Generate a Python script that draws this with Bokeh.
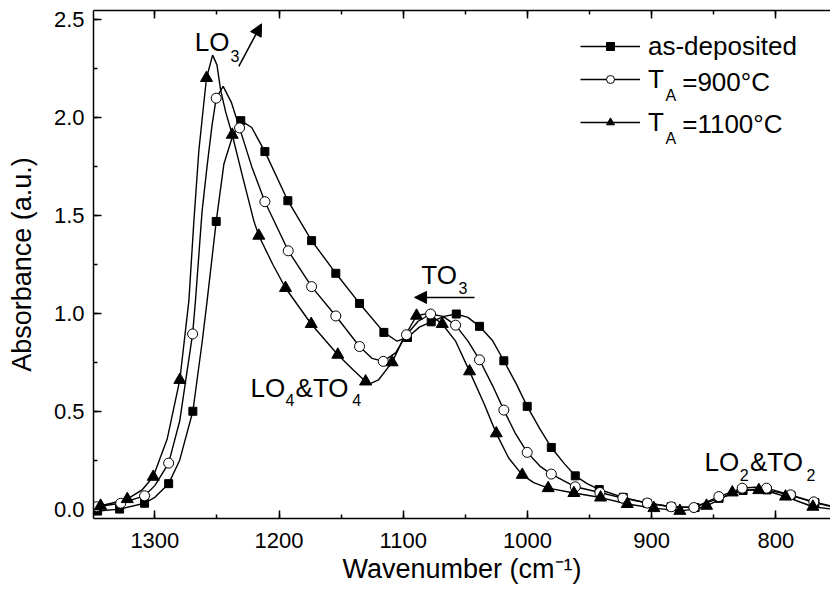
from bokeh.plotting import figure
from bokeh.models import (Range1d, LinearAxis, SingleIntervalTicker, Label, Arrow,
                          NormalHead, Legend, LegendItem, NumeralTickFormatter,
                          CustomLabelingPolicy)
from bokeh.embed import file_html
from bokeh.resources import INLINE

FONT = "Liberation Sans"

# ---------------- data ----------------
# as-deposited : curve
asdep_line_x = [1350, 1346.1, 1328.4, 1308.3, 1300, 1288.9, 1280, 1269.4, 1262, 1257.9, 1250.6, 1244.4,
                1237.7, 1230.8, 1222, 1211.4, 1192.9, 1173.8, 1154.3, 1135.2, 1115.6, 1105, 1096.6, 1087,
                1077.5, 1067, 1057.3, 1048, 1038.6, 1028, 1019, 1009, 1000.2, 990, 980.8, 970, 961.5, 952,
                942, 923, 903, 884, 866, 846, 827, 815, 807, 788, 769, 755]
asdep_line_y = [-0.012, -0.01, 0.0, 0.03, 0.06, 0.13, 0.25, 0.50, 0.85, 1.065, 1.47, 1.764,
                1.90, 1.985, 1.95, 1.827, 1.576, 1.372, 1.205, 1.051, 0.903, 0.858, 0.877, 0.93,
                0.957, 0.985, 0.997, 0.98, 0.934, 0.86, 0.758, 0.64, 0.525, 0.41, 0.315, 0.23, 0.17, 0.13,
                0.10, 0.06, 0.03, 0.012, 0.008, 0.055, 0.095, 0.10, 0.098, 0.07, 0.033, 0.012]
# as-deposited : markers
asdep_pts_x = [1346.1, 1328.4, 1308.3, 1288.9, 1269.4, 1250.6, 1230.8, 1211.4, 1192.9, 1173.8, 1154.3,
               1135.2, 1115.6, 1096.6, 1077.5, 1057.3, 1038.6, 1019.0, 1000.2, 980.8, 961.5, 942.2,
               922.9, 903.6, 884.3, 865.0, 845.7, 826.4, 807.1, 787.8, 768.5]
asdep_pts_y = [-0.01, 0.0, 0.03, 0.13, 0.50, 1.47, 1.985, 1.827, 1.576, 1.372, 1.205,
               1.051, 0.903, 0.877, 0.957, 0.997, 0.934, 0.758, 0.525, 0.315, 0.17, 0.10,
               0.06, 0.03, 0.012, 0.008, 0.055, 0.095, 0.098, 0.07, 0.033]

# T_A = 900 C : curve
t900_line_x = [1350, 1347, 1327.5, 1308.3, 1300, 1288.9, 1280, 1269.6, 1267.3, 1262, 1258, 1254,
               1250.6, 1245, 1238.5, 1231.8, 1222, 1211.4, 1192.6, 1173.8, 1154.3, 1135.2, 1125, 1116.1,
               1106, 1097.4, 1088, 1078, 1068, 1057.9, 1048, 1038.6, 1028, 1019, 1010, 1000.2, 990,
               980.8, 961.5, 941.7, 923.2, 903.5, 884.2, 866, 845.9, 827.1, 817, 807.5, 788.2, 769.4, 755]
t900_line_y = [0.005, 0.012, 0.03, 0.068, 0.12, 0.235, 0.45, 0.895, 1.065, 1.52, 1.75, 1.96,
               2.10, 2.16, 2.08, 1.948, 1.75, 1.571, 1.32, 1.137, 0.987, 0.831, 0.77, 0.755,
               0.80, 0.891, 0.96, 0.997, 0.985, 0.94, 0.86, 0.763, 0.63, 0.506, 0.39, 0.29, 0.22,
               0.179, 0.114, 0.085, 0.056, 0.031, 0.012, 0.008, 0.064, 0.107, 0.112, 0.107, 0.073, 0.037, 0.015]
# T_A = 900 C : markers
t900_pts_x = [1347.0, 1327.5, 1308.3, 1288.9, 1269.6, 1250.6, 1231.8, 1211.4, 1192.6, 1173.8, 1154.3,
              1135.2, 1116.1, 1097.4, 1078.0, 1057.9, 1038.6, 1019.0, 1000.2, 980.8, 961.5, 941.7,
              923.2, 903.5, 884.2, 866.0, 845.9, 827.1, 807.5, 788.2, 769.4]
t900_pts_y = [0.012, 0.03, 0.068, 0.235, 0.895, 2.10, 1.948, 1.571, 1.32, 1.137, 0.987,
              0.831, 0.755, 0.891, 0.997, 0.94, 0.763, 0.506, 0.29, 0.179, 0.114, 0.085,
              0.056, 0.031, 0.012, 0.008, 0.064, 0.107, 0.107, 0.073, 0.037]

# T_A = 1100 C : curve
t1100_line_x = [1350, 1343.7, 1335, 1322.2, 1310, 1301.3, 1290, 1279.9, 1272.6, 1268.6, 1264.6, 1261,
                1258.4, 1253.5, 1250, 1247, 1243, 1237.7, 1229, 1220.3, 1216.3, 1205, 1194.8, 1174.1,
                1152.7, 1140, 1130.3, 1127, 1120, 1109, 1100, 1089.3, 1080, 1068.6, 1058, 1046.6, 1035,
                1025.1, 1015, 1004.2, 995, 983.3, 962.6, 941.1, 919.6, 898.2, 877.3, 865, 855.8, 845,
                835.1, 825, 813.7, 803, 792.2, 780, 770.2, 755]
t1100_line_y = [0.005, 0.017, 0.03, 0.051, 0.10, 0.165, 0.36, 0.66, 1.065, 1.47, 1.83, 2.05,
                2.203, 2.32, 2.27, 2.14, 2.03, 1.913, 1.69, 1.473, 1.397, 1.25, 1.13, 0.946,
                0.789, 0.71, 0.652, 0.640, 0.66, 0.75, 0.87, 0.988, 1.0, 0.946, 0.86, 0.704, 0.54,
                0.387, 0.26, 0.175, 0.135, 0.107, 0.082, 0.059, 0.026, 0.005, -0.009, 0.0, 0.017, 0.05,
                0.085, 0.097, 0.097, 0.085, 0.064, 0.035, 0.012, 0.0]
# T_A = 1100 C : markers
t1100_pts_x = [1343.7, 1322.2, 1301.3, 1279.9, 1258.4, 1237.7, 1216.3, 1194.8, 1174.1, 1152.7, 1130.3,
               1109.0, 1089.3, 1068.6, 1046.6, 1025.1, 1004.2, 983.3, 962.6, 941.1, 919.6, 898.2,
               877.3, 855.8, 835.1, 813.7, 792.2, 770.2]
t1100_pts_y = [0.017, 0.051, 0.165, 0.66, 2.203, 1.913, 1.397, 1.13, 0.946, 0.789, 0.652,
               0.75, 0.988, 0.946, 0.704, 0.387, 0.175, 0.107, 0.082, 0.059, 0.026, 0.005,
               -0.009, 0.017, 0.085, 0.097, 0.064, 0.012]

series_names = ["as-deposited", "T", "T"]

# ---------------- figure ----------------
p = figure(width=830, height=595, output_backend="svg", toolbar_location=None,
           x_range=Range1d(1349.4, 756.0), y_range=Range1d(-0.048, 2.548),
           min_border_left=93, min_border_right=0, min_border_top=10, min_border_bottom=77)
p.outline_line_color = None
p.xgrid.grid_line_color = None
p.ygrid.grid_line_color = None
p.background_fill_color = "white"
p.border_fill_color = "white"

xt = SingleIntervalTicker(interval=100, num_minor_ticks=2)
yt = SingleIntervalTicker(interval=0.5, num_minor_ticks=2)
p.xaxis.ticker = xt
p.yaxis.ticker = yt
p.yaxis.formatter = NumeralTickFormatter(format="0.0")

for ax in (p.xaxis[0], p.yaxis[0]):
    ax.major_tick_in = 8
    ax.major_tick_out = 0
    ax.minor_tick_in = 4
    ax.minor_tick_out = 0
    ax.axis_line_width = 1.5
    ax.major_tick_line_width = 1.5
    ax.minor_tick_line_width = 1.5
    ax.axis_line_color = "black"
    ax.major_tick_line_color = "black"
    ax.minor_tick_line_color = "black"
    ax.major_label_text_font = FONT
    ax.major_label_text_font_size = "22px"
    ax.major_label_text_color = "black"
    ax.axis_label_text_font = FONT
    ax.axis_label_text_font_size = "27px"
    ax.axis_label_text_font_style = "normal"
    ax.axis_label_text_color = "black"

p.xaxis.axis_label = "Wavenumber (cm\u207b\u00b9)"
p.yaxis.axis_label = "Absorbance (a.u.)"
p.xaxis.major_label_standoff = 14
p.yaxis.major_label_standoff = 9
p.xaxis.axis_label_standoff = 3
p.yaxis.axis_label_standoff = 14

# top border with inward ticks, no labels
top = LinearAxis(ticker=xt, major_label_text_font_size="1px", major_label_standoff=0,
                 major_label_policy=CustomLabelingPolicy(
                     code="for (const i of indices) { indices.unset(i) } return indices"),
                 major_tick_in=8, major_tick_out=0, minor_tick_in=4, minor_tick_out=0,
                 axis_line_width=1.5, major_tick_line_width=1.5, minor_tick_line_width=1.5)
p.add_layout(top, "above")

# ---------------- curves and markers ----------------
LW = 1.4
l1 = p.line(asdep_line_x, asdep_line_y, line_color="black", line_width=LW)
l2 = p.line(t900_line_x, t900_line_y, line_color="black", line_width=LW)
l3 = p.line(t1100_line_x, t1100_line_y, line_color="black", line_width=LW)
s1 = p.scatter(asdep_pts_x, asdep_pts_y, marker="square", size=8,
               fill_color="black", line_color="black")
s2 = p.scatter(t900_pts_x, t900_pts_y, marker="circle", size=10,
               fill_color="white", line_color="black", line_width=1)
s3 = p.scatter(t1100_pts_x, t1100_pts_y, marker="triangle", size=12,
               fill_color="black", line_color="black")

# ---------------- legend (one row each) ----------------
rows = [(series_names[0], [l1, s1], 456.5),
        (series_names[1], [l2, s2], 423.2),
        (series_names[2], [l3, s3], 380.5)]
for lab, rends, vy in rows:
    lg = Legend(items=[LegendItem(label=lab, renderers=rends)], location=(487, vy),
                padding=0, margin=0, spacing=0, border_line_color=None,
                background_fill_alpha=0, glyph_width=60, glyph_height=20, label_height=20,
                label_standoff=8, label_text_font=FONT, label_text_font_size="26px",
                label_text_color="black")
    p.add_layout(lg)

def txt(x, y, s, size="26px"):
    p.add_layout(Label(x=x, y=y, text=s, text_font=FONT, text_font_size=size,
                       text_color="black", text_align="left", text_baseline="alphabetic"))

# legend subscripts and rest of the labels
txt(888.8, 2.115, "A", "16px")
txt(875.4, 2.185, "=900°C")
txt(888.8, 1.895, "A", "16px")
txt(875.4, 1.970, "=1100°C")

# ---------------- annotations ----------------
txt(1267.8, 2.389, "LO")
txt(1239.0, 2.316, "3", "16px")
p.add_layout(Arrow(end=NormalHead(size=12, fill_color="black", line_color="black"),
                   x_start=1232.4, y_start=2.262, x_end=1214.1, y_end=2.480,
                   line_width=1.5, line_color="black"))

txt(1085.5, 1.198, "TO")
txt(1055.5, 1.129, "3", "16px")
p.add_layout(Arrow(end=NormalHead(size=12, fill_color="black", line_color="black"),
                   x_start=1042.6, y_start=1.082, x_end=1090.9, y_end=1.082,
                   line_width=1.5, line_color="black"))

txt(1222.9, 0.620, "LO")
txt(1194.8, 0.556, "4", "16px")
txt(1186.7, 0.620, "&TO")
txt(1141.1, 0.556, "4", "16px")

txt(857.4, 0.242, "LO")
txt(829.0, 0.173, "2", "16px")
txt(820.9, 0.242, "&TO")
txt(775.3, 0.173, "2", "16px")

open("out.html", "w").write(file_html(p, INLINE))
